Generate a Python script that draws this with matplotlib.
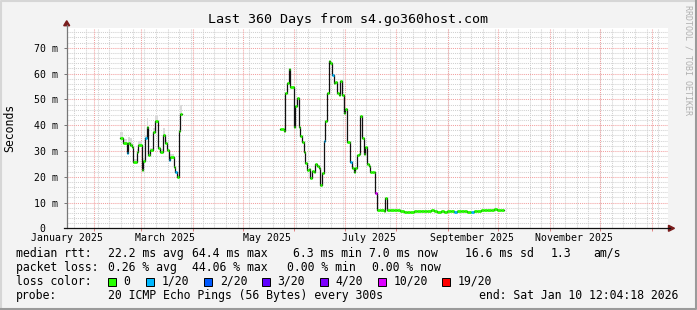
import datetime
import matplotlib
matplotlib.use('Agg')
from matplotlib import pyplot
from matplotlib.patches import Rectangle, Polygon

# time axis: 360 days ending Sat Jan 10 12:04:18 2026, x in days from start
start = datetime.datetime(2025, 1, 15, 12, 4, 18)

# median rtt (ms), first block of data
days1 = [32, 34, 36, 37, 38, 39, 40, 42, 43, 45, 46, 47, 48, 49, 50, 52, 53, 55, 56,
         58, 59, 60, 61, 62, 64, 65, 66, 67, 68]
rtt1 = [34.9, 33.2, 29.1, 32.9, 32.3, 31.6, 25.8, 29.7, 32.3, 22.6, 26.1, 35.1, 39.4,
        28.4, 30.3, 37.4, 41.7, 31.0, 29.7, 36.2, 32.9, 30.3, 26.5, 27.8, 23.9, 21.9,
        20.0, 37.8, 44.3]
smoke1 = [2.3, 1.5, 1.0, 2.5, 2.8, 1.5, 1.0, 1.0, 1.5, 0.5, 1.0, 1.0, 3.2, 1.0, 1.0,
          1.5, 2.2, 1.0, 1.0, 2.6, 1.5, 1.0, 0.5, 1.0, 1.0, 0.5, 0.5, 1.0, 3.5]
end1 = 69.2

# second block
days2 = [128, 130, 131, 132, 133, 134, 136, 137, 138, 139, 140, 141, 142, 143, 144,
         145, 146, 147, 148, 149, 150, 151, 152, 153, 154, 155, 156, 157, 158, 159,
         160, 161, 162, 163, 164, 165, 166, 167, 168, 170, 171, 172, 173, 174, 175,
         176, 177, 178, 179, 180, 181, 182, 183, 184, 185]
rtt2 = [38.4, 37.7, 52.3, 56.2, 61.7, 54.7, 39.4, 47.5, 50.6, 39.4, 35.9, 33.5, 29.7,
        25.2, 22.6, 23.0, 19.4, 22.2, 21.7, 24.8, 24.3, 23.5, 16.8, 21.3, 33.8, 41.5,
        52.3, 64.7, 64.0, 59.5, 56.2, 56.8, 52.3, 51.8, 57.1, 51.7, 44.6, 46.2, 33.3,
        25.8, 23.3, 21.7, 23.3, 28.4, 28.7, 43.6, 35.1, 28.7, 31.6, 24.8, 24.3, 21.7,
        21.9, 21.7, 13.6]

# flat part after the drop
days3 = [186, 188, 190, 191, 192, 194, 196, 198, 200, 202, 204, 206, 208, 210, 212,
         214, 216, 218, 220, 222, 224, 226, 228, 230, 232, 234, 236, 238, 240, 242,
         244, 246, 248, 250, 252, 254, 256, 258, 260]
rtt3 = [7.0, 7.0, 6.8, 11.6, 7.0, 7.1, 7.2, 7.0, 6.9, 6.4, 6.5, 6.5, 6.9, 6.7, 6.6,
        6.7, 6.6, 7.1, 6.8, 6.5, 6.7, 6.5, 6.8, 6.6, 6.4, 6.6, 6.7, 6.6, 6.5, 6.5,
        6.9, 6.8, 7.1, 7.2, 7.0, 7.1, 7.3, 7.2, 7.1]
end3 = 261.8

# days with packet loss -> index in loss_colors
loss_days = {36: 1, 47: 1, 61: 1, 65: 1, 154: 1, 159: 1, 170: 1, 185: 5, 232: 1, 242: 1}

loss_colors = ['#26ff00', '#00b8ff', '#0059ff', '#5e00ff', '#7e00ff', '#dd00ff', '#ff0000']
loss_labels = ['0', '1/20', '2/20', '3/20', '4/20', '10/20', '19/20']

W, H = 697, 310
X0, X1, Y0, Y1 = 66.7, 667.5, 27.7, 228.3
YMAX = 77.8
mono = 'DejaVu Sans Mono'
axis_fs = 7.1
legend_fs = 8.3

fig = pyplot.figure(figsize=(W / 100, H / 100), dpi=100, facecolor='#f3f3f3')
ax = fig.add_axes([X0 / W, 1 - Y1 / H, (X1 - X0) / W, (Y1 - Y0) / H])
ax.set_facecolor('white')
ax.set_xlim(0, 360)
ax.set_ylim(0, YMAX)
for s in ax.spines.values():
    s.set_visible(False)

# grid
months = [datetime.datetime(2025, m, 1) for m in range(2, 13)] + [datetime.datetime(2026, 1, 1)]
month_x = [(m - start).total_seconds() / 86400 for m in months]
monday = datetime.datetime(2025, 1, 20)
week_x = []
while monday < start + datetime.timedelta(days=360):
    week_x.append((monday - start).total_seconds() / 86400)
    monday += datetime.timedelta(days=7)

dots = (0, (1, 1))
for x in week_x:
    ax.axvline(x, color='#d0d0d0', lw=0.75, ls=dots, zorder=1)
for y in range(2, 78, 2):
    if y % 10:
        ax.axhline(y, color='#d0d0d0', lw=0.75, ls=dots, zorder=1)
for x in month_x:
    ax.axvline(x, color='#f2a0a0', lw=0.75, ls=dots, zorder=1.1)
for y in range(10, 78, 10):
    ax.axhline(y, color='#f2a0a0', lw=0.75, ls=dots, zorder=1.1)

# smoke
gaps1 = [b - a for a, b in zip(days1, days1[1:] + [end1])]
ax.bar(days1, smoke1, bottom=rtt1, width=gaps1, align='edge', color='#dadada', zorder=2)


def draw(days, vals, end):
    xs = days + [end]
    ax.step(xs, vals + [vals[-1]], where='post', color='#111111', lw=0.9, zorder=3)
    for i in range(len(days)):
        c = loss_colors[loss_days.get(days[i], 0)]
        ax.hlines(vals[i], xs[i], xs[i + 1], colors=c, lw=2.0, zorder=4,
                  capstyle='butt')


draw(days1, rtt1, end1)
draw(days2 + days3, rtt2 + rtt3, end3)

# ticks
ax.set_xticks(month_x)
ax.set_xticklabels([])
ax.tick_params(axis='x', length=2.5, width=0.7, color='#e08080', direction='out')
ax.set_yticks(range(0, 71, 10))
ax.set_yticklabels(['0  '] + ['%d m' % v for v in range(10, 71, 10)],
                   family=mono, fontsize=axis_fs)
ax.tick_params(axis='y', length=2.5, width=0.7, color='#777777', pad=4)

label_months = [datetime.datetime(2025, m, 1) for m in (1, 3, 5, 7, 9, 11)]
for m in label_months:
    lx = (m - start).total_seconds() / 86400 + 14.5
    ax.text(lx, -3.7, m.strftime('%B %Y'), ha='center', va='center', family=mono,
            fontsize=axis_fs, clip_on=False)

# overlay in pixel coordinates for frame, arrows and legend
ov = fig.add_axes([0, 0, 1, 1], zorder=5)
ov.set_xlim(0, W)
ov.set_ylim(H, 0)
ov.axis('off')
ov.patch.set_alpha(0)

ov.plot([X0, X0], [Y1, Y0 - 3], color='#777777', lw=0.9)
ov.plot([X0 - 3, X1 + 2], [Y1, Y1], color='#111111', lw=0.9)
ov.add_patch(Polygon([[X0 - 3, Y0 - 2], [X0 + 3, Y0 - 2], [X0, Y0 - 7]], color='#7a1c1c'))
ov.add_patch(Polygon([[X1 + 1, Y1 - 3], [X1 + 1, Y1 + 3], [X1 + 7, Y1]], color='#7a1c1c'))

ov.plot([1, 1, W - 1], [H - 1, 1, 1], color='#d6d6d6', lw=1.5)
ov.plot([1, W - 1, W - 1], [H - 1, H - 1, 1], color='#9a9a9a', lw=1.5)

ov.text(348, 19, 'Last 360 Days from s4.go360host.com', ha='center', va='center',
        family=mono, fontsize=9.6)
ov.text(10, 128, 'Seconds', rotation=90, ha='center', va='center', family=mono,
        fontsize=legend_fs)
ov.text(688, 5, 'RRDTOOL / TOBI OETIKER', rotation=270, ha='center', va='top',
        family=mono, fontsize=6.0, color='#b0b0b0')

rows = [
    [(16, 'median rtt:'), (107.6, '22.2 ms avg'), (192.4, '64.4 ms max'),
     (293, '6.3 ms min'), (369, '7.0 ms now'), (465, '16.6 ms sd'), (551, '1.3'),
     (593, 'am/s')],
    [(16, 'packet loss:'), (107.6, '0.26 % avg'), (192.4, '44.06 % max'),
     (286.7, '0.00 % min'), (372.4, '0.00 % now')],
    [(16, 'loss color:')],
    [(16, 'probe:'), (107.6, '20 ICMP Echo Pings (56 Bytes) every 300s'),
     (479, 'end: Sat Jan 10 12:04:18 2026')],
]
row_y = [253.5, 267.5, 281.5, 295.5]
for items, ry in zip(rows, row_y):
    for tx, t in items:
        ov.text(tx, ry, t, ha='left', va='center', family=mono, fontsize=legend_fs)

box_x = [108, 145.8, 204.4, 262.2, 320, 377.8, 442]
for bx, c, lab in zip(box_x, loss_colors, loss_labels):
    ov.add_patch(Rectangle((bx, 277.5), 8, 8, facecolor=c, edgecolor='black', lw=0.7))
    ov.text(bx + 15.5, 281.5, lab, ha='left', va='center', family=mono, fontsize=legend_fs)

fig.savefig('out.png', dpi=100, facecolor=fig.get_facecolor())
